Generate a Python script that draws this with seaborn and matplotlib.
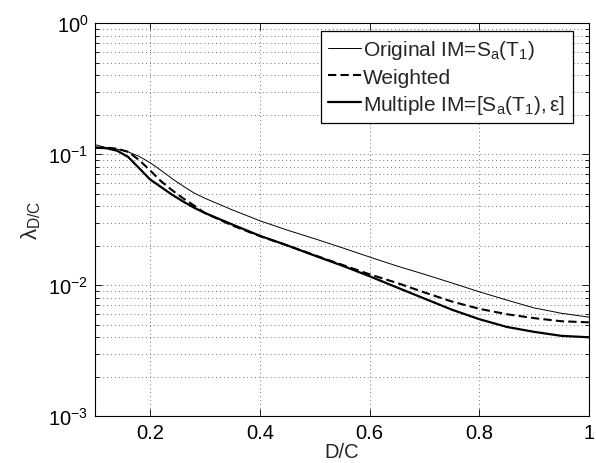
import matplotlib
matplotlib.use("Agg")
import matplotlib.pyplot as plt
import seaborn as sns
import numpy as np
from matplotlib.ticker import FixedLocator, FixedFormatter, LogLocator, NullFormatter

# ---- data ----
dc = [0.10, 0.12, 0.14, 0.16, 0.18, 0.20, 0.22, 0.24, 0.26, 0.28, 0.30, 0.35,
      0.40, 0.45, 0.50, 0.55, 0.60, 0.65, 0.70, 0.75, 0.80, 0.85, 0.90, 0.95, 1.00]
original = [0.118, 0.112, 0.109, 0.104, 0.096, 0.086, 0.075, 0.065, 0.057, 0.0505,
            0.046, 0.0375, 0.031, 0.0263, 0.0226, 0.0193, 0.0164, 0.0140, 0.0121,
            0.0104, 0.0089, 0.0077, 0.0067, 0.0061, 0.0057]
weighted = [0.112, 0.112, 0.110, 0.104, 0.090, 0.075, 0.062, 0.053, 0.046, 0.0405,
            0.0355, 0.0285, 0.0237, 0.0201, 0.0169, 0.0143, 0.0121, 0.0104, 0.0088,
            0.0075, 0.0066, 0.0060, 0.0056, 0.0053, 0.0052]
multiple = [0.112, 0.111, 0.106, 0.095, 0.078, 0.064, 0.056, 0.049, 0.0435, 0.039,
            0.0355, 0.029, 0.0238, 0.0201, 0.0168, 0.0141, 0.0117, 0.0096, 0.0079,
            0.0065, 0.0055, 0.0048, 0.0044, 0.0041, 0.0040]
series_labels = [r"Original IM=$\mathregular{S_a(T_1)}$",
                 "Weighted",
                 r"Multiple IM=$\mathregular{[S_a(T_1),ε]}$"]
xtick_vals = [0.2, 0.4, 0.6, 0.8, 1.0]
xtick_labels = ["0.2", "0.4", "0.6", "0.8", "1"]

sns.set_style("ticks")
plt.rcParams["font.family"] = ["Liberation Sans", "DejaVu Sans"]
plt.rcParams["mathtext.fontset"] = "custom"
plt.rcParams["mathtext.rm"] = "Liberation Sans"
plt.rcParams["mathtext.it"] = "Liberation Sans:italic"
plt.rcParams["mathtext.bf"] = "Liberation Sans:bold"
plt.rcParams["mathtext.sf"] = "Liberation Sans"

fig = plt.figure(figsize=(5.96, 4.64), dpi=100)
ax = fig.add_axes([0.160, 0.101, 0.828, 0.847])

sns.lineplot(x=dc, y=original, ax=ax, color="black", linewidth=0.7,
             label=series_labels[0])
sns.lineplot(x=dc, y=weighted, ax=ax, color="black", linewidth=1.5,
             linestyle=(0, (4, 2)), label=series_labels[1])
sns.lineplot(x=dc, y=multiple, ax=ax, color="black", linewidth=1.6,
             label=series_labels[2])

ax.set_yscale("log")
ax.set_xlim(0.1, 1.0)
ax.set_ylim(1e-3, 1e0)
ax.xaxis.set_major_locator(FixedLocator(xtick_vals))
ax.xaxis.set_major_formatter(FixedFormatter(xtick_labels))
ax.yaxis.set_major_locator(LogLocator(base=10, numticks=10))
ax.yaxis.set_minor_locator(LogLocator(base=10, subs=np.arange(2, 10), numticks=20))
ax.yaxis.set_minor_formatter(NullFormatter())

grid_kw = dict(linestyle=(0, (1, 3)), color="0.45", linewidth=0.7)
ax.grid(True, which="major", **grid_kw)
ax.yaxis.grid(True, which="minor", **grid_kw)

ax.tick_params(which="both", direction="in", top=True, right=True,
               colors="black", labelsize=14.5, width=0.6)
ax.tick_params(which="major", length=5, pad=5)
ax.tick_params(which="minor", length=3)
for s in ax.spines.values():
    s.set_visible(True)
    s.set_color("black")
    s.set_linewidth(0.8)

ax.set_xlabel("D/C", fontsize=14.5, labelpad=0)
ax.set_ylabel(r"$\mathregular{λ_{D/C}}$", fontsize=16, labelpad=4)

leg = ax.legend(loc="upper right", bbox_to_anchor=(0.967, 0.980),
                fontsize=15, frameon=True, fancybox=False, framealpha=1,
                edgecolor="black", handlelength=1.6, handletextpad=0.1,
                borderpad=0.35, labelspacing=0.3, borderaxespad=0)
leg.get_frame().set_linewidth(0.9)

fig.savefig("out.png", dpi=100)
